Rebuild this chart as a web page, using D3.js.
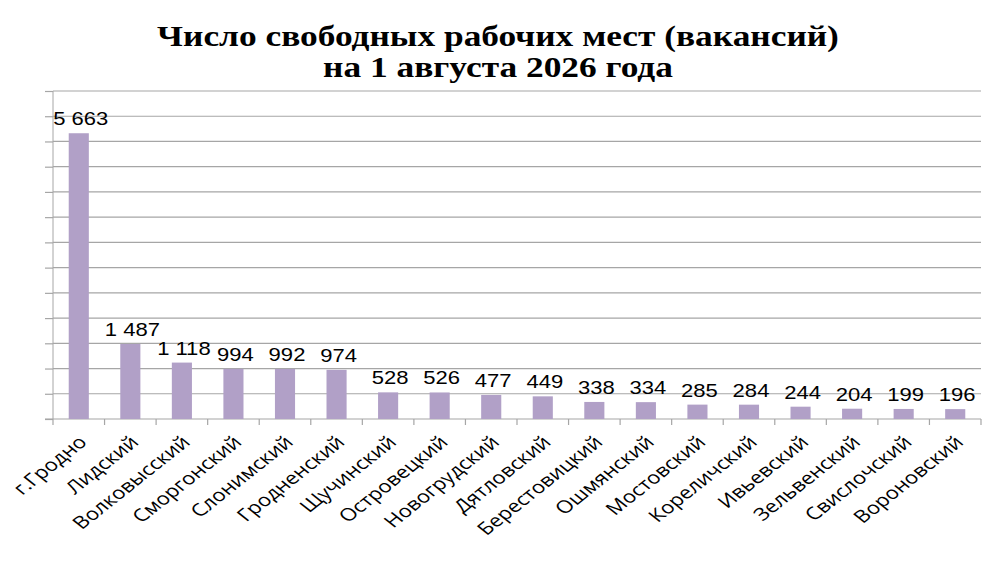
<!DOCTYPE html>
<html>
<head>
<meta charset="utf-8">
<script src="https://cdn.jsdelivr.net/npm/d3@7"></script>
<style>
  body { margin: 0; background: #fff; }
  svg { display: block; }
</style>
</head>
<body>
<script>
const width = 1000;
const height = 584;

// DATA
const districts = [
  'г.Гродно', 'Лидский', 'Волковысский', 'Сморгонский', 'Слонимский',
  'Гродненский', 'Щучинский', 'Островецкий', 'Новогрудский', 'Дятловский',
  'Берестовицкий', 'Ошмянский', 'Мостовский', 'Кореличский', 'Ивьевский',
  'Зельвенский', 'Свислочский', 'Вороновский'
];
const vacancies = [
  5663, 1487, 1118, 994, 992, 974, 528, 526, 477, 449,
  338, 334, 285, 284, 244, 204, 199, 196
];
const titleLines = ['Число свободных рабочих мест (вакансий)', 'на 1 августа 2026 года'];
const yMax = 6500;
const yStep = 500;

// the original picture is stretched sideways, so texts get the same stretch
const stretch = 1.26;

// LAYOUT
const margin = { top: 91, right: 19, bottom: 165, left: 53 };
const innerW = width - margin.left - margin.right;
const innerH = height - margin.top - margin.bottom;

const svg = d3
  .select('body')
  .append('svg')
  .attr('width', width)
  .attr('height', height);

const g = svg
  .append('g')
  .attr('transform', `translate(${margin.left}, ${margin.top})`);

const x = d3.scaleBand().domain(districts).range([0, innerW]).paddingInner(0.61).paddingOuter(0.305);
const y = d3.scaleLinear().domain([0, yMax]).range([innerH, 0]);

const ticks = d3.range(0, yMax + 1, yStep);

// gridlines
g.append('g')
  .selectAll('line')
  .data(ticks.filter((d) => d > 0))
  .join('line')
  .attr('x1', 0)
  .attr('x2', innerW)
  .attr('y1', (d) => y(d))
  .attr('y2', (d) => y(d))
  .attr('stroke', '#a6a6a6')
  .attr('stroke-width', 1.2);

// y axis (ticks only, no labels)
const yAxis = g.append('g')
  .call(d3.axisLeft(y).tickValues(ticks).tickSize(8).tickFormat(''));
yAxis.select('.domain').attr('stroke', '#a6a6a6').attr('d', `M0,${innerH}V0`);
yAxis.selectAll('.tick line').attr('stroke', '#a6a6a6').attr('stroke-width', 1.2);

// x axis: ticks at category boundaries
const bounds = d3.range(districts.length + 1).map((i) => i * x.step());
const xAxisG = g.append('g').attr('transform', `translate(0, ${innerH})`);
xAxisG.append('line')
  .attr('x1', -8).attr('x2', innerW)
  .attr('stroke', '#a6a6a6')
  .attr('stroke-width', 1.2);
xAxisG.selectAll('line.tk')
  .data(bounds)
  .join('line')
  .attr('class', 'tk')
  .attr('x1', (d) => d).attr('x2', (d) => d)
  .attr('y1', 0).attr('y2', 6)
  .attr('stroke', '#a6a6a6')
  .attr('stroke-width', 1.2);

// bars
g.selectAll('rect.bar')
  .data(vacancies)
  .join('rect')
  .attr('class', 'bar')
  .attr('x', (d, i) => x(districts[i]))
  .attr('y', (d) => y(d))
  .attr('width', x.bandwidth())
  .attr('height', (d) => innerH - y(d))
  .attr('fill', '#b1a0c7');

// value labels
const fmt = (v) => d3.format(',')(v).replace(',', ' ');
g.selectAll('text.val')
  .data(vacancies)
  .join('text')
  .attr('class', 'val')
  .attr('transform', (d, i) => `translate(${x(districts[i]) + x.bandwidth() / 2 + 2}, ${y(d) - 8}) scale(${stretch}, 1)`)
  .attr('text-anchor', 'middle')
  .attr('font-family', 'Liberation Sans, Arial, sans-serif')
  .attr('font-size', 17.5)
  .attr('fill', '#000')
  .text((d) => fmt(d));

// category labels
g.selectAll('text.cat')
  .data(districts)
  .join('text')
  .attr('class', 'cat')
  .attr('transform', (d) => `translate(${x(d) + x.bandwidth() / 2 + 4}, ${innerH + 20}) scale(${stretch}, 1) rotate(-45)`)
  .attr('text-anchor', 'end')
  .attr('dy', '0.35em')
  .attr('font-family', 'Open Sans, sans-serif')
  .attr('font-size', 17.5)
  .attr('fill', '#000')
  .text((d) => d);

// TITLE
svg.append('g')
  .attr('transform', `translate(498, 0) scale(${stretch * 0.985}, 1)`)
  .append('text')
  .attr('text-anchor', 'middle')
  .attr('font-family', 'Liberation Serif, Times New Roman, serif')
  .attr('font-weight', 'bold')
  .attr('font-size', 28.5)
  .selectAll('tspan')
  .data(titleLines)
  .join('tspan')
  .attr('x', 0)
  .attr('y', (d, i) => 46 + i * 31)
  .text((d) => d);
</script>
</body>
</html>
